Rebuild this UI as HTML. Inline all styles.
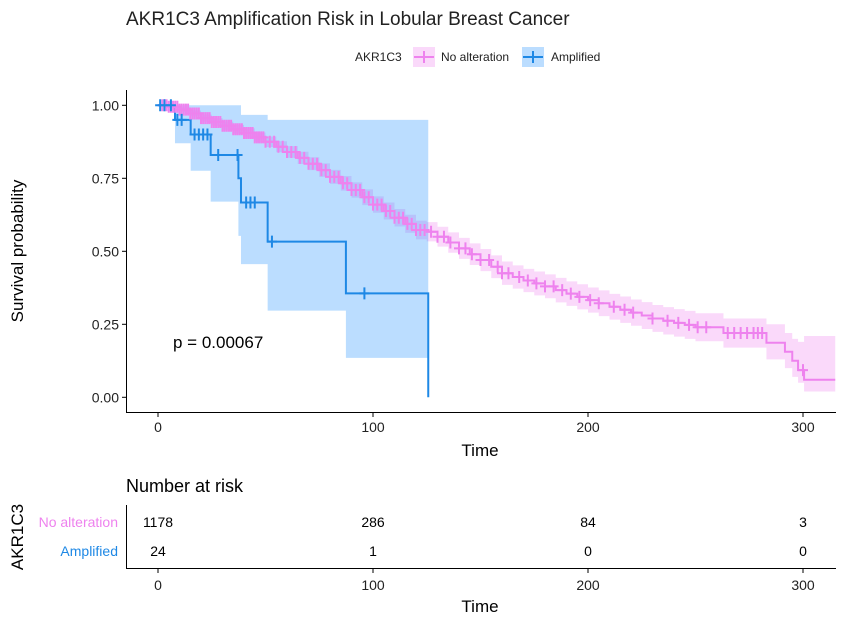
<!DOCTYPE html>
<html><head><meta charset="utf-8">
<style>
body{margin:0;background:#fff;}
svg{display:block;font-family:"Liberation Sans",Arial,sans-serif;}
</style></head>
<body>
<svg id="chart" width="843" height="623" viewBox="0 0 843 623">
<text x="126" y="25" font-size="19" fill="#222">AKR1C3 Amplification Risk in Lobular Breast Cancer</text>
<g>
<text x="355" y="61" font-size="12" fill="#222">AKR1C3</text>
<g>
<rect x="413" y="47" width="22" height="20" fill="#EE82EE" fill-opacity="0.3"/>
<line x1="414" y1="57" x2="434" y2="57" stroke="#EE82EE" stroke-width="2"/>
<line x1="424" y1="51" x2="424" y2="63" stroke="#EE82EE" stroke-width="2"/>
<text x="441" y="61" font-size="12" fill="#222">No alteration</text></g>
<g>
<rect x="522" y="47" width="22" height="20" fill="#1E90FF" fill-opacity="0.3"/>
<line x1="523" y1="57" x2="543" y2="57" stroke="#1E88E5" stroke-width="2"/>
<line x1="533" y1="51" x2="533" y2="63" stroke="#1E88E5" stroke-width="2"/>
<text x="551" y="61" font-size="12" fill="#222">Amplified</text></g>
</g>
<g id="plot"></g>
<g id="axes">
<line x1="126.5" y1="90" x2="126.5" y2="412.5" stroke="#000" stroke-width="1"/>
<line x1="126" y1="412.5" x2="836" y2="412.5" stroke="#000" stroke-width="1"/>
</g>
<text x="0" y="0" font-size="17" fill="#000" text-anchor="middle" transform="translate(23,251) rotate(-90)">Survival probability</text>
<text x="480" y="456" font-size="17" fill="#000" text-anchor="middle">Time</text>
<text x="173" y="348" font-size="17" fill="#000">p = 0.00067</text>

<g>
<text x="126" y="492" font-size="18" fill="#000">Number at risk</text>
<line x1="126.5" y1="505" x2="126.5" y2="568.5" stroke="#000"/>
<line x1="126" y1="568.5" x2="836" y2="568.5" stroke="#000"/>
<text x="118" y="527" font-size="14" fill="#EE82EE" text-anchor="end">No alteration</text>
<text x="118" y="556" font-size="14" fill="#1E88E5" text-anchor="end">Amplified</text>
<text x="0" y="0" font-size="17" fill="#000" text-anchor="middle" transform="translate(23,537) rotate(-90)">AKR1C3</text>
<g id="riskvals"></g>
<text x="480" y="612" font-size="17" fill="#000" text-anchor="middle">Time</text>
</g>
</svg>
<script>
const xTicks=[0,100,200,300];
const yTicks=[0,0.25,0.5,0.75,1.0];
const yTickLabels=["0.00","0.25","0.50","0.75","1.00"];
const pinkTimes=[0,5,10,15,20,25,30,35,40,45,50,55,60,65,70,75,80,85,90,95,100,105,110,115,120,125,130,135,140,145,150,155,160,165,170,175,180,185,190,195,200,205,210,215,220,225,230,235,240,245,250,263,283,291.6,295,297.7,300.5,315];
const pinkSurv=[1.0,.995,.985,.972,.956,.943,.93,.918,.905,.89,.875,.858,.84,.82,.80,.778,.755,.733,.71,.685,.66,.638,.615,.594,.573,.567,.55,.53,.51,.49,.47,.447,.425,.412,.40,.39,.38,.367,.355,.344,.333,.322,.31,.30,.29,.28,.27,.262,.255,.248,.24,.22,.187,.156,.125,.093,.06,.06];
const pinkUpper=[1.0,.999,.993,.982,.968,.956,.944,.933,.921,.907,.893,.877,.86,.841,.822,.801,.779,.758,.736,.712,.688,.667,.645,.625,.605,.60,.584,.565,.546,.527,.508,.486,.465,.452,.44,.431,.421,.409,.397,.387,.376,.366,.354,.345,.335,.326,.316,.309,.302,.296,.288,.27,.25,.22,.2,.19,.21,.21];
const pinkLower=[1.0,.991,.977,.962,.944,.930,.916,.903,.889,.873,.857,.839,.82,.799,.778,.755,.731,.708,.684,.658,.632,.609,.585,.563,.541,.534,.516,.495,.474,.453,.432,.408,.385,.372,.36,.349,.339,.325,.313,.301,.29,.278,.266,.255,.245,.234,.224,.215,.208,.20,.192,.17,.13,.1,.07,.05,.02,.02];
const pinkCensor=[2,3,4,5,6,7,8,9,10,11,12,13,14,15,16,17,18,19,20,21,22,23,24,25,26,27,28,29,30,31,32,33,34,35,36,37,38,39,40,41,42,43,44,45,46,47,48,49,50,52,54,56,58,60,62,64,66,68,70,72,74,76,78,80,82,84,86,88,90,92,94,96,98,100,102,104,106,108,110,112,114,116,118,120,122,124,127,130,133,136,140,143,146,150,154,158,160,163,168,172,176,180,184,188,192,196,201,205,212,217,221,230,237,242,247,251,255,265,268,271,274,277,279,281,300];
const blueTimes=[0,7.9,15.2,24.5,37.4,38.6,51,87.4,125.7];
const blueSurv=[1.0,0.95,0.90,0.83,0.75,0.667,0.533,0.356,0.0];
const blueUpper=[1.0,1.0,1.0,1.0,1.0,0.967,0.95,0.95];
const blueLower=[1.0,0.87,0.776,0.67,0.553,0.456,0.297,0.135];
const blueCensor=[1,3,6,9,11,17,19,21,23,28,37,41,43,45,53,96];
const riskTimes=[0,100,200,300];
const riskNoAlt=[1178,286,84,3];
const riskAmp=[24,1,0,0];

const X=t=>158+t*2.15;
const Y=s=>397.3-s*292;
const NS="http://www.w3.org/2000/svg";
const plot=document.getElementById('plot');
const axes=document.getElementById('axes');
function mk(tag,attrs,parent){const e=document.createElementNS(NS,tag);for(const k in attrs)e.setAttribute(k,attrs[k]);parent.appendChild(e);return e;}
function survAt(times,surv,t){let v=surv[0];for(let i=0;i<times.length;i++){if(times[i]<=t)v=surv[i];}return v;}
function bandPath(times,up,lo,end){
  let top="",bot=[];
  const n=Math.min(up.length,lo.length);
  for(let i=0;i<n;i++){const t0=times[i],t1=(i+1<times.length?times[i+1]:end);
    top+=(i===0?"M":"L")+X(t0)+","+Y(up[i])+"L"+X(t1)+","+Y(up[i]);
    bot.push([X(t0),Y(lo[i]),X(t1)]);}
  for(let i=bot.length-1;i>=0;i--){top+="L"+bot[i][2]+","+bot[i][1]+"L"+bot[i][0]+","+bot[i][1];}
  return top+"Z";
}
function stepPath(times,surv){
  let d="M"+X(times[0])+","+Y(surv[0]);
  for(let i=1;i<times.length;i++){d+="H"+X(times[i])+"V"+Y(surv[i]);}
  return d;
}
const pb=mk('path',{d:bandPath(pinkTimes.slice(0,-1),pinkUpper.slice(0,-1),pinkLower.slice(0,-1),315),fill:'#EE82EE','fill-opacity':0.3},plot);


const bb=mk('path',{d:bandPath(blueTimes,blueUpper,blueLower,125.7),fill:'#1E90FF','fill-opacity':0.3},plot);


const pl=mk('path',{d:stepPath(pinkTimes,pinkSurv),fill:'none',stroke:'#EE82EE','stroke-width':2},plot);


const bl=mk('path',{d:stepPath(blueTimes,blueSurv),fill:'none',stroke:'#1E88E5','stroke-width':2},plot);


function censors(ts,times,surv,color,name){
  ts.forEach(t=>{const x=X(t),y=Y(survAt(times,surv,t));
    const g=mk('path',{d:`M${x-5},${y}H${x+5}M${x},${y-6}V${y+6}`,stroke:color,'stroke-width':2},plot);
    
    });
}
censors(pinkCensor,pinkTimes,pinkSurv,'#EE82EE','censor-mark-no-alteration');
censors(blueCensor,blueTimes,blueSurv,'#1E88E5','censor-mark-amplified');
xTicks.forEach(t=>{
  const l=mk('line',{x1:X(t),x2:X(t),y1:412.5,y2:417,stroke:'#000'},axes);
  
  
  const tx=mk('text',{x:X(t),y:432,'font-size':14,'text-anchor':'middle',fill:'#222'},axes);
  tx.textContent=t;
  
  
  const l2=mk('line',{x1:X(t),x2:X(t),y1:568.5,y2:573,stroke:'#000'},axes);
  
  
  const t2=mk('text',{x:X(t),y:590,'font-size':14,'text-anchor':'middle',fill:'#222'},axes);
  t2.textContent=t;
  
  
});
yTicks.forEach((v,i)=>{
  const l=mk('line',{x1:122,x2:126.5,y1:Y(v),y2:Y(v),stroke:'#000'},axes);
  
  
  const tx=mk('text',{x:119,y:Y(v)+5,'font-size':14,'text-anchor':'end',fill:'#222'},axes);
  tx.textContent=yTickLabels[i];
  
  
});
const rv=document.getElementById('riskvals');
riskTimes.forEach((t,i)=>{
  const a=mk('text',{x:X(t),y:527,'font-size':14,'text-anchor':'middle',fill:'#000'},rv);
  a.textContent=riskNoAlt[i];
  
  
  const b=mk('text',{x:X(t),y:556,'font-size':14,'text-anchor':'middle',fill:'#000'},rv);
  b.textContent=riskAmp[i];
  
  
});
</script>
</body></html>
